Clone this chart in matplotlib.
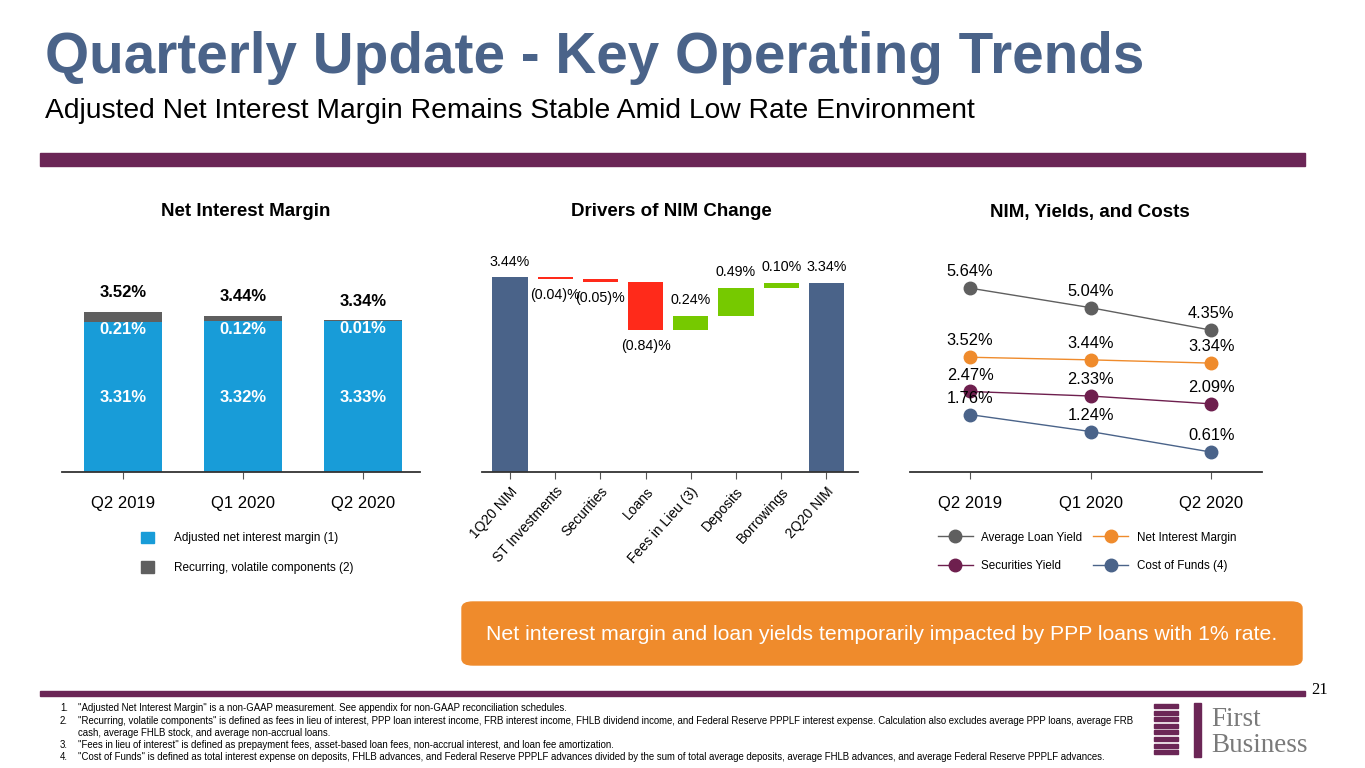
import numpy as np
import matplotlib
matplotlib.use("Agg")
import matplotlib.pyplot as plt
from matplotlib.patches import Patch, FancyBboxPatch, Rectangle

plt.rcParams['font.family'] = ['Liberation Sans', 'DejaVu Sans']

# ---- data ----
quarters = ['Q2 2019', 'Q1 2020', 'Q2 2020']
adj_nim = [3.31, 3.32, 3.33]
volatile = [0.21, 0.12, 0.01]
nim_total = [3.52, 3.44, 3.34]

driver_labels = ['1Q20 NIM', 'ST Investments', 'Securities', 'Loans',
                 'Fees in Lieu (3)', 'Deposits', 'Borrowings', '2Q20 NIM']
driver_changes = [3.44, -0.04, -0.05, -0.84, 0.24, 0.49, 0.10, 3.34]

loan_yield = [5.64, 5.04, 4.35]
nim_line = [3.52, 3.44, 3.34]
sec_yield = [2.47, 2.33, 2.09]
cost_funds = [1.76, 1.24, 0.61]

W, H = 1365, 768
fig = plt.figure(figsize=(W / 100, H / 100), dpi=100)

def px(x0, y0, x1, y1):
    return [x0 / W, 1 - y1 / H, (x1 - x0) / W, (y1 - y0) / H]

def ftxt(x, y, s, **kw):
    fig.text(x / W, 1 - y / H, s, **kw)

SLATE = '#4a6389'
PURPLE = '#6b2656'
BLUE = '#189cd8'
GRAY = '#5f5f5f'
RED = '#ff2a1a'
GREEN = '#76c900'
ORANGE = '#ef8b2c'
PLUM = '#6e1f4e'

# header
ftxt(45, 73, 'Quarterly Update - Key Operating Trends', fontsize=40.8,
     fontweight='bold', color=SLATE, va='baseline')
ftxt(45, 118, 'Adjusted Net Interest Margin Remains Stable Amid Low Rate Environment',
     fontsize=20.3, color='black', va='baseline')
fig.patches.append(Rectangle((40 / W, 1 - 166 / H), 1265 / W, 13 / H,
                             transform=fig.transFigure, color=PURPLE))
fig.patches.append(Rectangle((40 / W, 1 - 696 / H), 1265 / W, 5 / H,
                             transform=fig.transFigure, color=PURPLE))

def style(ax):
    for s in ['top', 'right', 'left']:
        ax.spines[s].set_visible(False)
    ax.spines['bottom'].set_color('#333333')
    ax.spines['bottom'].set_linewidth(1.3)
    ax.set_yticks([])
    ax.tick_params(axis='x', length=5, color='#555555', labelsize=12, pad=12)

# ---- chart 1: stacked bars ----
ax1 = fig.add_axes(px(62, 250, 420, 472))
x1 = np.arange(len(quarters))
ax1.bar(x1, adj_nim, width=0.65, color=BLUE)
ax1.bar(x1, volatile, bottom=adj_nim, width=0.65, color=GRAY)
ax1.set_xlim(-0.508, 2.475)
ax1.set_ylim(0, 4.884)
style(ax1)
ax1.set_xticks(x1, quarters)
for i in range(3):
    top = adj_nim[i] + volatile[i]
    ax1.text(x1[i], top + 0.42, f'{nim_total[i]:.2f}%', ha='center', va='center',
             fontsize=12, fontweight='bold')
    ax1.text(x1[i], adj_nim[i] - 0.18, f'{volatile[i]:.2f}%', ha='center', va='center',
             fontsize=12, fontweight='bold', color='white')
    ax1.text(x1[i], 1.63, f'{adj_nim[i]:.2f}%', ha='center', va='center',
             fontsize=12, fontweight='bold', color='white')
ftxt(246, 212, 'Net Interest Margin', fontsize=13.5, fontweight='bold', ha='center', va='center')
fig.legend(handles=[Patch(color=BLUE, label='Adjusted net interest margin (1)'),
                    Patch(color=GRAY, label='Recurring, volatile components (2)')],
           loc='upper left', bbox_to_anchor=(130 / W, 1 - 521 / H), frameon=False,
           fontsize=8.5, handlelength=1.1, handleheight=1.1, handletextpad=1.7,
           labelspacing=1.45)

# ---- chart 2: waterfall ----
ax2 = fig.add_axes(px(482, 250, 858, 472))
x2 = np.arange(len(driver_labels))
level = driver_changes[0]
for i, v in enumerate(driver_changes):
    if i == 0 or i == len(driver_changes) - 1:
        ax2.bar(x2[i], v, width=0.78, color=SLATE)
        ax2.text(x2[i], v + 0.27, f'{v:.2f}%', ha='center', va='center', fontsize=10.3)
        continue
    lo = min(level, level + v)
    col = RED if v < 0 else GREEN
    ax2.bar(x2[i], abs(v), bottom=lo, width=0.78, color=col)
    if v < 0:
        ax2.text(x2[i], lo - 0.28, f'({abs(v):.2f})%', ha='center', va='center', fontsize=10.3)
    else:
        ax2.text(x2[i], lo + abs(v) + 0.28, f'{v:.2f}%', ha='center', va='center', fontsize=10.3)
    level += v
ax2.set_xlim(-0.62, 7.7)
ax2.set_ylim(0, 3.915)
style(ax2)
ax2.set_xticks(x2)
ax2.set_xticklabels(driver_labels, rotation=48, ha='right', rotation_mode='anchor',
                    fontsize=10)
ax2.tick_params(axis='x', pad=4)
ftxt(671, 212, 'Drivers of NIM Change', fontsize=13.5, fontweight='bold', ha='center', va='center')

# ---- chart 3: lines ----
ax3 = fig.add_axes(px(910, 250, 1262, 472))
x3 = np.arange(len(quarters))
series = [(loan_yield, GRAY, 'Average Loan Yield'),
          (nim_line, ORANGE, 'Net Interest Margin'),
          (sec_yield, PLUM, 'Securities Yield'),
          (cost_funds, SLATE, 'Cost of Funds (4)')]
handles = []
for vals, col, lab in series:
    h, = ax3.plot(x3, vals, color=col, lw=1, marker='o', markersize=9, label=lab)
    handles.append(h)
    for xi, v in zip(x3, vals):
        ax3.text(xi, v + 0.5, f'{v:.2f}%', ha='center', va='center', fontsize=11.8)
ax3.set_xlim(-0.498, 2.42)
ax3.set_ylim(0, 6.81)
style(ax3)
ax3.set_xticks(x3, quarters)
ftxt(1090, 212, 'NIM, Yields, and Costs', fontsize=13.5, fontweight='bold', ha='center', va='center')
# legend fills columns first, so reorder to read row-wise like the slide
order = [0, 2, 1, 3]
fig.legend(handles=[handles[k] for k in order],
           labels=[series[k][2] for k in order], ncol=2, loc='upper left',
           bbox_to_anchor=(927 / W, 1 - 521 / H), frameon=False, fontsize=8.4,
           handlelength=3.0, handletextpad=0.75, columnspacing=0.95, labelspacing=1.45)

# ---- callout ----
fig.patches.append(FancyBboxPatch((462 / W, 1 - 665 / H), 840 / W, 63 / H,
                                  boxstyle='round,pad=0,rounding_size=0.008',
                                  transform=fig.transFigure, color=ORANGE))
ftxt(882, 634, 'Net interest margin and loan yields temporarily impacted by PPP loans with 1% rate.',
     fontsize=15.3, color='white', ha='center', va='center')

# ---- footnotes ----
ftxt(1320, 690, '21', fontsize=12, ha='center', va='center', family='Liberation Serif')
notes = [
    ('1.', '"Adjusted Net Interest Margin" is a non-GAAP measurement. See appendix for non-GAAP reconciliation schedules.'),
    ('2.', '"Recurring, volatile components" is defined as fees in lieu of interest, PPP loan interest income, FRB interest income, FHLB dividend income, and Federal Reserve PPPLF interest expense. Calculation also excludes average PPP loans, average FRB'),
    ('', 'cash, average FHLB stock, and average non-accrual loans.'),
    ('3.', '"Fees in lieu of interest" is defined as prepayment fees, asset-based loan fees, non-accrual interest, and loan fee amortization.'),
    ('4.', '"Cost of Funds" is defined as total interest expense on deposits, FHLB advances, and Federal Reserve PPPLF advances divided by the sum of total average deposits, average FHLB advances, and average Federal Reserve PPPLF advances.'),
]
ny = [708, 721, 733, 745, 757]
for (n, t), y in zip(notes, ny):
    ftxt(60, y, n, fontsize=6.9, va='center')
    ftxt(78, y, t, fontsize=6.9, va='center')

# ---- logo ----
for k in range(8):
    yy = 704 + k * 6.6
    fig.patches.append(Rectangle((1154 / W, 1 - (yy + 4) / H), 24 / W, 4 / H,
                                 transform=fig.transFigure, color=PURPLE))
fig.patches.append(Rectangle((1194 / W, 1 - 757 / H), 7 / W, 54 / H,
                             transform=fig.transFigure, color=PURPLE))
ftxt(1211, 719, 'First', fontsize=19.5, color='#7a7a7a', va='center', family='Liberation Serif')
ftxt(1211, 745, 'Business', fontsize=19.5, color='#7a7a7a', va='center', family='Liberation Serif')

fig.savefig('out.png', dpi=100)
